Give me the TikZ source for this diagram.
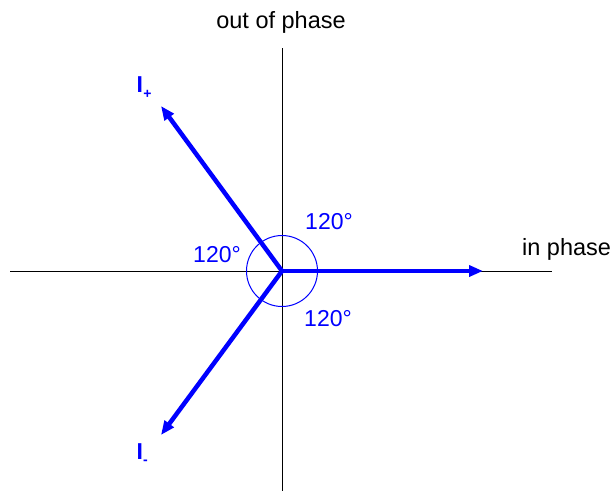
\documentclass[tikz,border=0pt]{standalone}
\usepackage{fontspec}
\setmainfont{Liberation Sans}
\usetikzlibrary{arrows.meta}
\begin{document}
\begin{tikzpicture}[x=1pt,y=-1pt,
  axis/.style={black, line width=1pt},
  vec/.style={blue, line width=4.5pt, -{Triangle[length=14pt,width=11pt]}},
  anglbl/.style={text=blue, font=\fontsize{23}{27}\selectfont, inner sep=0pt, anchor=base},
  axlbl/.style={text=black, font=\fontsize{23.5}{27}\selectfont, inner sep=0pt, anchor=base},
  curr/.style={text=blue, font=\fontsize{23}{25}\selectfont\bfseries, inner sep=0pt},
  currsub/.style={text=blue, font=\fontsize{14}{16}\selectfont\bfseries, inner sep=0pt}]
\useasboundingbox (0,0) rectangle (613,491);
\coordinate (O) at (282,271);
\coordinate (xl) at (10,271);
\coordinate (xr) at (552,271);
\coordinate (yt) at (282,48);
\coordinate (yb) at (282,491);
\draw[axis] (xl) -- (xr);
\draw[axis] (yt) -- (yb);
\draw[blue, line width=1pt] (O) circle[radius=35.5pt];
\coordinate (Tin) at (483,271);
\coordinate (Tp) at (161,106);
\coordinate (Tm) at (161,435);
\draw[vec] (O) -- (Tin);
\draw[vec] (O) -- (Tp);
\draw[vec] (O) -- (Tm);
\node[axlbl] (outph) at (281,28) {out of phase};
\node[axlbl, anchor=base west] (inph) at (522,255) {in phase};
\node[anglbl] (a1) at (329,229) {120°};
\node[anglbl] (a2) at (217,262) {120°};
\node[anglbl] (a3) at (328,326) {120°};
\node[curr, anchor=base west] (Ip) at (136.5,92) {I};
\node[currsub] (Ips) at (147.5,94) {+};
\node[curr, anchor=base west] (Im) at (136.5,459) {I};
\node[currsub] (Ims) at (145.5,462) {-};
\end{tikzpicture}
\end{document}
